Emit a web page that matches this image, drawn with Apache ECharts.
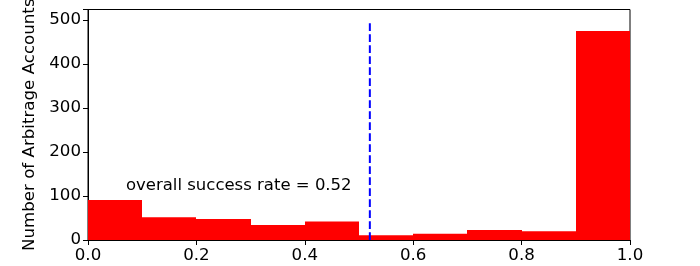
<!DOCTYPE html>
<html>
<head>
<meta charset="utf-8">
<script src="https://cdn.jsdelivr.net/npm/echarts@6/dist/echarts.min.js"></script>
<style>
html,body{margin:0;padding:0;background:#fff;}
#chart{width:700px;height:266px;}
</style>
</head>
<body>
<div id="chart"></div>
<script>
// Histogram bins (success rate) and counts
var binStarts = [0.0, 0.1, 0.2, 0.3, 0.4, 0.5, 0.6, 0.7, 0.8, 0.9];
var binEnds   = [0.1, 0.2, 0.3, 0.4, 0.5, 0.6, 0.7, 0.8, 0.9, 1.0];
var counts    = [91, 52, 48, 34, 42, 11, 14, 23, 20, 475];
var overallRate = 0.52;
var rateLineTop = 498;
var annotationText = 'overall success rate = 0.52';

var font = 'DejaVu Sans';
var fs = 16.67;
var histData = binStarts.map(function (s, i) { return [s, binEnds[i], counts[i]]; });

var chart = echarts.init(document.getElementById('chart'), null, {renderer: 'canvas'});
chart.setOption({
  animation: false,
  backgroundColor: '#fff',
  grid: {left: 88, right: 70, top: 9.5, bottom: 26, show: true, borderColor: '#000', borderWidth: 1,
    backgroundColor: 'transparent', containLabel: false, outerBoundsMode: 'none'},
  xAxis: {
    type: 'value', min: 0, max: 1, interval: 0.2,
    axisLine: {show: true, onZero: false, lineStyle: {color: '#000', width: 1}},
    axisTick: {show: true, length: 5, lineStyle: {color: '#000'}},
    axisLabel: {color: '#000', fontFamily: font, fontSize: fs, margin: 7,
      formatter: function (v) { return v.toFixed(1); }},
    splitLine: {show: false}
  },
  yAxis: {
    type: 'value', min: 0, max: 524, interval: 100,
    name: 'Number of Arbitrage Accounts', nameLocation: 'middle', nameGap: 50,
    nameTextStyle: {color: '#000', fontFamily: font, fontSize: fs},
    axisLine: {show: true, lineStyle: {color: '#000', width: 1}},
    axisTick: {show: true, length: 5, lineStyle: {color: '#000'}},
    axisLabel: {color: '#000', fontFamily: font, fontSize: fs, margin: 7,
      formatter: function (v) { return (v % 100 === 0) ? String(v) : ''; }},
    splitLine: {show: false}
  },
  series: [
    {
      type: 'custom',
      data: histData,
      renderItem: function (params, api) {
        var p0 = api.coord([api.value(0), api.value(2)]);
        var p1 = api.coord([api.value(1), 0]);
        var x0 = Math.round(p0[0]), x1 = Math.round(p1[0]);
        return {type: 'rect', shape: {x: x0, y: p0[1], width: x1 - x0, height: p1[1] - p0[1]},
          style: {fill: '#ff0000'}};
      },
      z: 2
    },
    {
      type: 'line',
      data: [[overallRate, 0], [overallRate, rateLineTop]],
      symbol: 'none',
      lineStyle: {color: '#0000ff', width: 2, type: [7.7, 3.3]},
      z: 3
    },
    {
      type: 'custom',
      data: [[0.07, 103]],
      renderItem: function (params, api) {
        var p = api.coord([api.value(0), api.value(1)]);
        return {type: 'text', x: p[0], y: p[1],
          style: {text: annotationText, fill: '#000', font: '16.5px "DejaVu Sans"', textAlign: 'left', textVerticalAlign: 'bottom'}};
      },
      z: 4
    }
  ]
});
</script>
</body>
</html>
